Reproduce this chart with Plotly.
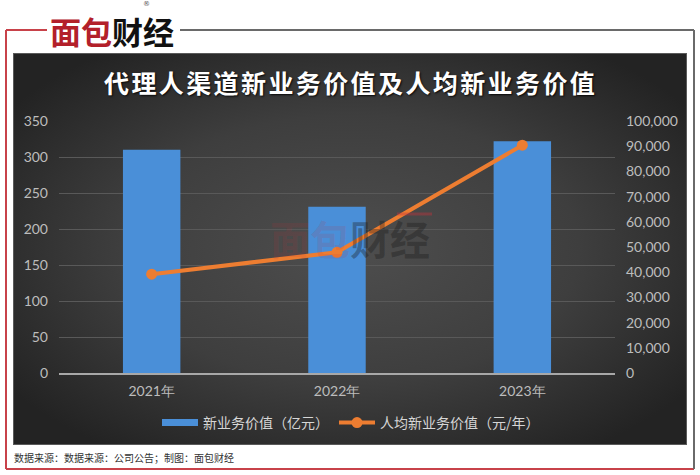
import base64
import plotly.graph_objects as go

# ---------------- data ----------------
categories = ["2021年", "2022年", "2023年"]
nbv_100m = [310, 231, 322]                 # 新业务价值（亿元）
nbv_per_agent = [39200, 47900, 90400]      # 人均新业务价值（元/年）
left_ticks = [0, 50, 100, 150, 200, 250, 300, 350]
right_ticks = [0, 10000, 20000, 30000, 40000, 50000, 60000, 70000, 80000, 90000, 100000]
right_tick_labels = ["0", "10,000", "20,000", "30,000", "40,000", "50,000",
                     "60,000", "70,000", "80,000", "90,000", "100,000"]

title_text = "代理人渠道新业务价值及人均新业务价值"
bar_name = "新业务价值（亿元）"
line_name = "人均新业务价值（元/年）"
footer_text = "数据来源：数据来源：公司公告；制图：面包财经"

# ---------------- geometry helpers ----------------
W, H = 700, 475
L, R, T, B = 59, 615, 121, 373


def px(x):
    return (x - L) / (R - L)


def py(y):
    return (B - y) / (B - T)


CJK = "Noto Sans CJK SC"
BLUE = "#4a8fd8"
ORANGE = "#ed7d31"

fig = go.Figure()

fig.add_trace(go.Bar(
    x=categories, y=nbv_100m, name=bar_name, marker=dict(color=BLUE, line=dict(width=0)),
    width=0.31, showlegend=False, yaxis="y"))
# legend proxy for the bar series (wide thin swatch as in the original)
fig.add_trace(go.Scatter(
    x=[None], y=[None], mode="lines", name=bar_name,
    line=dict(color=BLUE, width=7), yaxis="y"))
fig.add_trace(go.Scatter(
    x=categories, y=nbv_per_agent, name=line_name, mode="lines+markers",
    line=dict(color=ORANGE, width=4), marker=dict(color=ORANGE, size=11),
    yaxis="y2"))

# dark panel with radial gradient
svg = ('<svg xmlns="http://www.w3.org/2000/svg" width="674" height="392" viewBox="0 0 674 392">'
       '<defs><radialGradient id="g" cx="0.5" cy="0.5" r="0.62">'
       '<stop offset="0" stop-color="#4e4e4e"/><stop offset="0.55" stop-color="#3e3e3e"/>'
       '<stop offset="1" stop-color="#232323"/></radialGradient></defs>'
       '<rect width="674" height="392" fill="url(#g)"/>'
       '<rect x="0.5" y="0.5" width="673" height="391" fill="none" stroke="#5a5a5a" stroke-width="1"/>'
       '</svg>')
src = "data:image/svg+xml;base64," + base64.b64encode(svg.encode()).decode()

images = [dict(source=src, xref="paper", yref="paper", x=px(13), y=py(53),
               sizex=(687 - 13) / (R - L), sizey=(445 - 53) / (B - T),
               xanchor="left", yanchor="top", sizing="stretch", layer="below")]

FRAME_RED = "#c8424a"
shapes = [
    dict(type="line", xref="paper", yref="paper", x0=px(6), x1=px(47), y0=py(30), y1=py(30),
         line=dict(color=FRAME_RED, width=2)),
    dict(type="line", xref="paper", yref="paper", x0=px(6), x1=px(6), y0=py(30), y1=py(469),
         line=dict(color=FRAME_RED, width=2)),
    dict(type="line", xref="paper", yref="paper", x0=px(6), x1=px(694), y0=py(469), y1=py(469),
         line=dict(color=FRAME_RED, width=2)),
    dict(type="line", xref="paper", yref="paper", x0=px(180), x1=px(694), y0=py(30), y1=py(30),
         line=dict(color="#6a6a6a", width=2)),
    dict(type="line", xref="paper", yref="paper", x0=px(694), x1=px(694), y0=py(30), y1=py(469),
         line=dict(color="#6a6a6a", width=2)),
    # watermark red accent over logo
    dict(type="line", xref="paper", yref="paper", x0=px(397), x1=px(432), y0=py(214), y1=py(214),
         line=dict(color="rgba(200,50,60,0.40)", width=3)),
]


def ann(x, y, text, font, xanchor="center"):
    return dict(x=px(x), y=py(y), xref="paper", yref="paper", showarrow=False,
                xanchor=xanchor, yanchor="middle", text=text, font=font)


title_html = "<b><span style='letter-spacing:2.4px'>" + title_text + "</span></b>"

annotations = [
    # logo
    ann(112, 31, "<b><span style='color:#b3202a'>面包</span>财经</b>",
        dict(family=CJK, size=31, color="#111111")),
    ann(146, 4, "®", dict(family="DejaVu Sans", size=7, color="#555555")),
    # title (with soft shadow)
    ann(350, 82, title_html, dict(family=CJK, size=25, color="#ffffff",
                                  shadow="1px 1px 2px rgba(0,0,0,0.85)")),
    # watermark
    ann(350, 238, "<b><span style='color:rgba(200,45,55,0.40)'>面包</span>财经</b>",
        dict(family=CJK, size=40, color="rgba(25,25,25,0.36)")),
    # footer
    ann(12, 457, footer_text, dict(family=CJK, size=10, color="#333333"), xanchor="left"),
]

TICK_FONT = dict(family="Lato, Roboto, sans-serif", size=14, color="#bdbdbd")

fig.update_layout(
    width=W, height=H,
    margin=dict(l=L, r=W - R, t=T, b=H - B, autoexpand=False),
    paper_bgcolor="#ffffff", plot_bgcolor="rgba(0,0,0,0)",
    images=images, shapes=shapes, annotations=annotations,
    showlegend=True,
    legend=dict(orientation="h", x=px(351), y=py(423), xanchor="center", yanchor="middle",
                font=dict(family=CJK, size=14, color="#d6d6d6"), bgcolor="rgba(0,0,0,0)",
                itemwidth=36, traceorder="normal"),
    hovermode=False,
    xaxis=dict(type="category", tickfont=TICK_FONT, showgrid=False, ticks="",
               showline=True, linecolor="#a8a8a8", linewidth=2, ticklabelstandoff=4,
               zeroline=False),
    yaxis=dict(range=[0, 350], tickvals=left_ticks, tickfont=TICK_FONT, ticks="",
               showgrid=True, gridcolor="#595959", gridwidth=1, zeroline=False,
               showline=False, ticklabelstandoff=10),
    yaxis2=dict(range=[0, 100000], overlaying="y", side="right", tickvals=right_ticks,
                ticktext=right_tick_labels, tickfont=TICK_FONT, ticks="",
                showgrid=False, zeroline=False, showline=False, ticklabelstandoff=10),
)

fig.write_html("out.html", config={"displayModeBar": False},
               post_script="document.body.style.margin='0';")
